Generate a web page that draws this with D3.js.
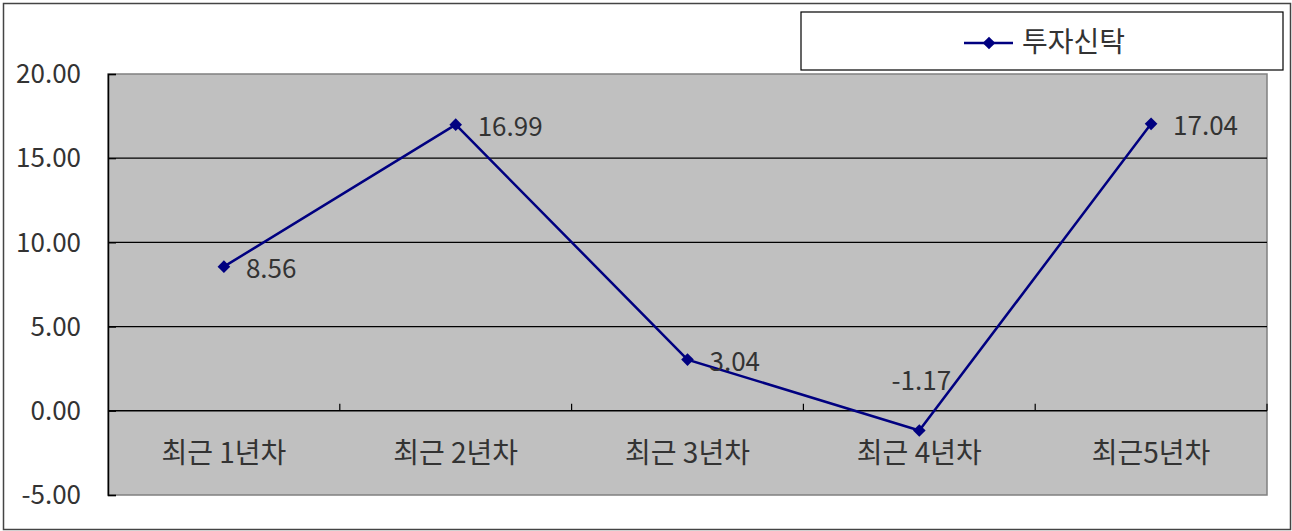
<!DOCTYPE html>
<html>
<head>
<meta charset="utf-8">
<script src="https://cdn.jsdelivr.net/npm/d3@7"></script>
<style>
  body { margin: 0; background: #fff; }
  text { font-family: "Noto Sans CJK KR", "Noto Sans", sans-serif; fill: #333; }
</style>
</head>
<body>
<div id="chart"></div>
<script>
const categories = ['최근 1년차', '최근 2년차', '최근 3년차', '최근 4년차', '최근5년차'];
const values = [8.56, 16.99, 3.04, -1.17, 17.04];
const yTicks = [-5, 0, 5, 10, 15, 20];
const seriesName = '투자신탁';

const W = 1292, H = 531;
const plot = { left: 108, top: 74, right: 1267, bottom: 495 };
const fmt = d3.formatLocale({ decimal: '.', thousands: ',', grouping: [3], currency: ['', ''], minus: '-' }).format('.2f');

const svg = d3.select('#chart').append('svg')
    .attr('width', W).attr('height', H);

// outer frame
svg.append('rect')
    .attr('x', 3.5).attr('y', 3.5)
    .attr('width', W - 5).attr('height', H - 5)
    .attr('fill', '#fff').attr('stroke', '#444').attr('stroke-width', 1.5);

const x = d3.scaleBand().domain(categories).range([plot.left, plot.right]);
const y = d3.scaleLinear().domain([-5, 20]).range([plot.bottom, plot.top]);

// plot area
svg.append('rect')
    .attr('x', plot.left).attr('y', plot.top)
    .attr('width', plot.right - plot.left).attr('height', plot.bottom - plot.top)
    .attr('fill', '#c0c0c0').attr('stroke', '#808080').attr('stroke-width', 1.5);

// horizontal grid
svg.append('g')
    .selectAll('line')
    .data(yTicks.filter(d => d !== 0 && d !== -5 && d !== 20))
    .enter().append('line')
    .attr('x1', plot.left).attr('x2', plot.right)
    .attr('y1', d => y(d)).attr('y2', d => y(d))
    .attr('stroke', '#000').attr('stroke-width', 1.2);

// y axis
const yAxis = svg.append('g')
    .attr('transform', `translate(${plot.left},0)`)
    .call(d3.axisRight(y).tickValues(yTicks).tickSize(8).tickFormat(''));
yAxis.select('.domain').attr('stroke', '#000').attr('stroke-width', 1.5);
yAxis.selectAll('line').attr('stroke', '#000').attr('stroke-width', 1.2);

svg.append('g')
    .selectAll('text')
    .data(yTicks)
    .enter().append('text')
    .attr('x', 81).attr('y', d => y(d))
    .attr('dy', '0.35em')
    .attr('text-anchor', 'end')
    .style('font-size', '26px')
    .text(d => fmt(d));

// x axis at zero, ticks pointing up between categories
const xAxis = svg.append('g')
    .attr('transform', `translate(0,${y(0)})`);
xAxis.append('line')
    .attr('x1', plot.left).attr('x2', plot.right)
    .attr('stroke', '#000').attr('stroke-width', 1.5);
xAxis.selectAll('.tk')
    .data(categories)
    .enter().append('line')
    .attr('class', 'tk')
    .attr('x1', d => x(d) + x.bandwidth()).attr('x2', d => x(d) + x.bandwidth())
    .attr('y1', 0).attr('y2', -7)
    .attr('stroke', '#000').attr('stroke-width', 1.2);
xAxis.selectAll('text')
    .data(categories)
    .enter().append('text')
    .attr('x', d => x(d) + x.bandwidth() / 2)
    .attr('y', 42)
    .attr('dy', '0.35em')
    .attr('text-anchor', 'middle')
    .style('font-size', '28px')
    .text(d => d);

// series line
const pts = categories.map((c, i) => ({ c, v: values[i] }));
const line = d3.line()
    .x(d => x(d.c) + x.bandwidth() / 2)
    .y(d => y(d.v));

svg.append('path')
    .datum(pts)
    .attr('d', line)
    .attr('fill', 'none')
    .attr('stroke', '#000080')
    .attr('stroke-width', 2.5);

const diamond = d3.symbol().type(d3.symbolSquare).size(80);
svg.append('g')
    .selectAll('path')
    .data(pts)
    .enter().append('path')
    .attr('d', diamond)
    .attr('transform', d => `translate(${x(d.c) + x.bandwidth() / 2},${y(d.v)}) rotate(45)`)
    .attr('fill', '#000080');

// data labels: right of point, above when negative
svg.append('g')
    .selectAll('text')
    .data(pts)
    .enter().append('text')
    .attr('x', d => x(d.c) + x.bandwidth() / 2 + (d.v < 0 ? 2 : 22))
    .attr('y', d => y(d.v) + (d.v < 0 ? -50 : 2))
    .attr('dy', '0.35em')
    .attr('text-anchor', d => d.v < 0 ? 'middle' : 'start')
    .style('font-size', '26px')
    .text(d => fmt(d.v));

// legend
const lg = svg.append('g');
lg.append('rect')
    .attr('x', 801).attr('y', 12)
    .attr('width', 482).attr('height', 58)
    .attr('fill', '#fff').attr('stroke', '#000').attr('stroke-width', 1.2);
lg.append('line')
    .attr('x1', 964).attr('x2', 1013)
    .attr('y1', 43).attr('y2', 43)
    .attr('stroke', '#000080').attr('stroke-width', 2.5);
lg.append('path')
    .attr('d', diamond)
    .attr('transform', 'translate(989,43) rotate(45)')
    .attr('fill', '#000080');
lg.append('text')
    .attr('x', 1022).attr('y', 42)
    .attr('dy', '0.35em')
    .style('font-size', '28px')
    .text(seriesName);
</script>
</body>
</html>
